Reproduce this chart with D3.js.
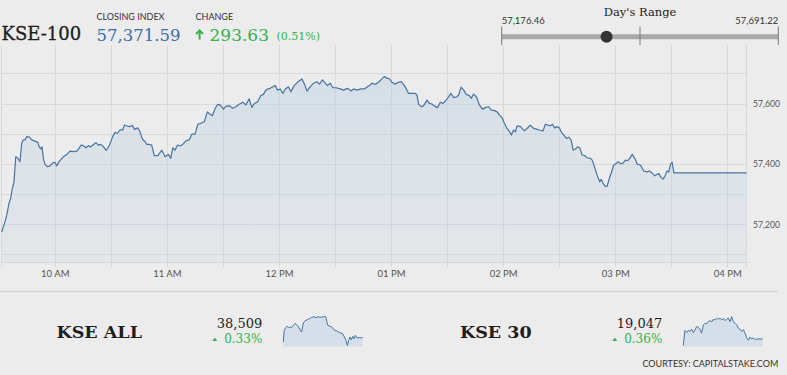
<!DOCTYPE html>
<html>
<head>
<meta charset="utf-8">
<script src="https://cdn.jsdelivr.net/npm/d3@7"></script>
<style>
  body { margin: 0; background: #ececec; }
  svg { display: block; }
  .serif { font-family: 'DejaVu Serif', serif; }
  .sans { font-family: Lato, 'Open Sans', sans-serif; }
  .narrow { font-family: 'Liberation Sans Narrow', Lato, sans-serif; }
</style>
</head>
<body>
<div id="chart"></div>
<script>
// KSE-100 intraday, minutes after 09:30 and index level
const kse100Minutes = [1.3,3.1,4.0,5.2,6.1,7.0,7.9,8.8,9.6,10.6,
  11.1,12.0,12.9,13.8,14.7,16.1,17.4,19.1,20.6,21.4,
  22.2,22.9,23.6,24.5,25.9,27.2,28.6,29.8,30.7,32.0,
  34.3,36.1,37.9,39.6,41.5,42.7,43.8,45.0,46.4,47.7,
  49.0,50.4,51.8,53.0,54.3,55.4,57.2,58.9,60.7,62.0,
  63.2,64.7,66.1,67.0,68.6,70.0,71.1,72.5,74.1,75.2,
  76.6,78.1,79.0,80.2,81.6,83.0,84.9,87.0,88.8,90.5,
  91.8,92.9,94.1,95.4,96.8,98.3,99.9,101.8,103.1,104.8,
  106.3,107.9,109.7,111.4,112.9,114.1,115.6,117.0,118.2,120.0,
  121.4,123.2,125.0,126.6,128.4,130.4,132.0,133.8,135.2,136.6,
  138.4,140.0,141.4,142.7,143.8,145.0,146.5,147.7,149.0,150.4,
  151.8,153.1,154.8,156.1,157.9,159.6,162.0,163.4,164.7,166.4,
  168.2,170.0,171.4,173.0,174.5,175.7,177.2,178.6,180.4,182.5,
  184.3,186.4,188.3,189.6,191.5,193.6,195.4,197.1,198.6,199.5,
  201.3,203.0,204.3,206.1,207.9,208.9,210.2,211.9,213.7,215.0,
  216.4,217.9,219.1,220.5,222.7,223.6,224.5,225.9,227.1,229.0,
  230.2,231.6,233.0,234.6,236.1,237.5,238.8,240.2,241.8,243.2,
  245.0,245.9,247.2,248.6,250.0,251.6,252.7,253.9,255.4,257.0,
  258.7,260.2,261.9,263.4,265.2,266.5,267.7,269.1,270.4,271.8,
  273.0,274.1,275.3,276.3,277.2,279.0,281.1,282.5,284.3,286.1,
  287.9,289.1,291.1,292.3,293.6,295.0,296.2,297.2,298.6,299.8,
  300.8,302.2,303.6,304.8,306.1,307.2,308.4,309.6,310.7,312.0,
  313.4,314.7,316.5,317.4,318.6,320.0,321.4,322.3,323.2,324.5,
  325.4,326.6,327.7,328.9,330.2,331.3,332.5,333.8,335.2,336.4,
  337.5,338.8,340.2,341.5,343.2,345.0,346.8,348.2,349.6,350.9,
  352.2,353.0,354.3,355.4,356.6,357.5,358.4,359.3,360.2,361.1,
  400];
const kse100Values = [57176,57210,57232,57271,57287,57320,57342,57425,57422,57414,
  57409,57470,57481,57481,57492,57490,57481,57477,57473,57458,
  57451,57458,57420,57400,57392,57395,57405,57407,57395,57409,
  57425,57433,57444,57442,57444,57453,57464,57462,57455,57462,
  57458,57466,57472,57464,57466,57461,57446,57462,57492,57506,
  57503,57514,57514,57530,57527,57525,57530,57516,57521,57510,
  57484,57475,57466,57466,57464,57429,57429,57447,57425,57433,
  57420,57455,57447,57464,57461,57467,57478,57482,57500,57500,
  57533,57536,57541,57574,57566,57561,57586,57599,57597,57583,
  57593,57594,57586,57591,57599,57606,57597,57617,57589,57602,
  57608,57628,57632,57646,57650,57652,57657,57661,57646,57650,
  57635,57650,57657,57641,57661,57672,57683,57666,57643,57657,
  57669,57674,57666,57680,57669,57661,57669,57654,57654,57650,
  57646,57652,57643,57650,57646,57650,57650,57657,57663,57669,
  57665,57672,57680,57691,57685,57683,57672,57666,57672,57674,
  57665,57650,57635,57635,57635,57630,57599,57591,57594,57613,
  57602,57600,57593,57588,57606,57602,57610,57621,57635,57621,
  57624,57630,57656,57646,57632,57628,57619,57633,57624,57597,
  57583,57588,57591,57580,57578,57574,57564,57555,57536,57519,
  57510,57497,57514,57508,57528,57525,57511,57519,57530,57519,
  57516,57514,57511,57533,57530,57528,57533,57521,57525,57521,
  57508,57497,57486,57490,57481,57447,57451,57458,57455,57431,
  57429,57422,57420,57414,57392,57365,57342,57350,57337,57326,
  57328,57354,57373,57398,57403,57409,57402,57403,57414,57412,
  57420,57433,57420,57401,57398,57378,57375,57378,57370,57362,
  57367,57370,57356,57351,57365,57378,57375,57400,57407,57372,
  57371.59];

const yDomain = [57074, 57790];

const closingIndex = 57371.59;
const change = 293.63;
const changePct = 0.51;
const dayLow = 57176.46;
const dayHigh = 57691.22;

// small indices shown under the main chart
const indexNames = ['KSE ALL', 'KSE 30'];
const indexCloses = [38509, 19047];
const indexPcts = [0.33, 0.36];

const kseAllMinutes = [1,6,13,21,28,35,43,51,60,68,76,85,93,102,110,118,132,144,155,165,
  177,189,202,214,224,236,247,258,269,279,289,299,308,316,323,330,336,343,350,356,363,370,400];
const kseAllValues = [38457,38599,38631,38647,38627,38639,38631,38656,38680,38664,
  38647,38607,38578,38688,38712,38720,38737,38753,38761,38749,
  38761,38753,38761,38761,38660,38647,38631,38599,38591,38578,
  38566,38558,38518,38477,38416,38477,38518,38485,38526,38497,
  38538,38509,38509];

const kse30Minutes = [1,9,18,26,35,43,51,60,68,76,85,93,102,110,118,127,135,144,152,160,
  169,177,185,194,202,211,219,227,236,244,253,261,269,278,286,294,303,311,320,328,
  336,345,353,361,370,400];
const kse30Values = [19004,19103,19090,19103,19097,19112,19090,19108,19129,19125,
  19108,19086,19140,19151,19147,19162,19168,19160,19177,19172,
  19183,19177,19185,19172,19183,19168,19177,19185,19162,19194,
  19162,19151,19140,19118,19112,19097,19108,19086,19054,19039,
  19060,19047,19054,19043,19047,19047];

const GREEN = '#33b24b';
const BLUE = '#3b6ea6';
const LINE = '#4874a3';
const GRID = '#d9d9d9';

const width = 787, height = 375;
const svg = d3.select('#chart').append('svg')
  .attr('width', width)
  .attr('height', height);

svg.append('rect').attr('width', width).attr('height', height).attr('fill', '#ececec');

const base = new Date(2019, 0, 1, 9, 30);
const toTime = m => new Date(base.getTime() + m * 60000);

const kse100 = kse100Minutes.map((m, i) => ({ t: toTime(m), v: kse100Values[i] }));

const x = d3.scaleTime().domain(d3.extent(kse100, d => d.t)).range([1.7, 746.5]);
const y = d3.scaleLinear().domain(yDomain).range([262.7, 46.7]);
const plotTop = 45, plotBottom = y.range()[0];

// grid
const grid = svg.append('g').attr('shape-rendering', 'crispEdges');
grid.selectAll('line.h')
  .data(y.ticks(8))
  .join('line')
  .attr('class', 'h')
  .attr('x1', x.range()[0]).attr('x2', x.range()[1])
  .attr('y1', d => y(d)).attr('y2', d => y(d))
  .attr('stroke', GRID);

grid.append('line')
  .attr('x1', x.range()[0]).attr('x2', 751)
  .attr('y1', plotBottom).attr('y2', plotBottom)
  .attr('stroke', GRID);

const halfHours = x.ticks(d3.timeMinute.every(30));
grid.selectAll('line.v')
  .data(halfHours.map(d => x(d)).concat(x.range()))
  .join('line')
  .attr('class', 'v')
  .attr('x1', d => d).attr('x2', d => d)
  .attr('y1', plotTop).attr('y2', plotBottom + 4.5)
  .attr('stroke', GRID);

// area + line
const grad = svg.append('defs').append('linearGradient')
  .attr('id', 'areaFill')
  .attr('x1', 0).attr('y1', 0).attr('x2', 0).attr('y2', 1);
grad.append('stop').attr('offset', '0%').attr('stop-color', '#b9cde0').attr('stop-opacity', 0.45);
grad.append('stop').attr('offset', '100%').attr('stop-color', '#c4d2e0').attr('stop-opacity', 0.22);

svg.append('path')
  .datum(kse100)
  .attr('fill', 'url(#areaFill)')
  .attr('d', d3.area().x(d => x(d.t)).y0(plotBottom).y1(d => y(d.v)));

svg.append('path')
  .datum(kse100)
  .attr('fill', 'none')
  .attr('stroke', LINE)
  .attr('stroke-width', 1.2)
  .attr('stroke-linejoin', 'round')
  .attr('d', d3.line().x(d => x(d.t)).y(d => y(d.v)));

// axis labels
svg.append('g')
  .selectAll('text')
  .data(x.ticks(d3.timeHour.every(1)))
  .join('text')
  .attr('class', 'narrow')
  .attr('x', d => x(d))
  .attr('y', 276.5)
  .attr('text-anchor', 'middle')
  .attr('font-size', 9.5)
  .attr('fill', '#555')
  .text(d => d3.timeFormat('%I %p')(d));

svg.append('g')
  .selectAll('text')
  .data(y.ticks(8).filter(d => d % 200 === 0))
  .join('text')
  .attr('class', 'sans')
  .attr('x', 753)
  .attr('y', d => y(d) + 3)
  .attr('font-size', 8.6)
  .attr('fill', '#555')
  .text(d3.format(','));

// header
svg.append('text').attr('class', 'serif')
  .attr('x', 1.5).attr('y', 39.5)
  .attr('font-size', 18).attr('fill', '#1e1e1e')
  .attr('stroke', '#1e1e1e').attr('stroke-width', 0.3)
  .text('KSE-100');

svg.append('text').attr('class', 'sans')
  .attr('x', 96.5).attr('y', 20)
  .attr('font-size', 9).attr('fill', '#333')
  .text('CLOSING INDEX');

svg.append('text').attr('class', 'serif')
  .attr('x', 96.5).attr('y', 40.5)
  .attr('font-size', 16.5).attr('fill', BLUE)
  .text(d3.format(',.2f')(closingIndex));

svg.append('text').attr('class', 'sans')
  .attr('x', 195.5).attr('y', 20)
  .attr('font-size', 9).attr('fill', '#333')
  .text('CHANGE');

const arrow = svg.append('g')
  .attr('stroke', GREEN).attr('stroke-width', 2).attr('fill', 'none');
arrow.append('line').attr('x1', 199.6).attr('x2', 199.6).attr('y1', 39.5).attr('y2', 30.5);
arrow.append('polyline').attr('points', '196.2,34 199.6,30.4 203,34');

svg.append('text').attr('class', 'serif')
  .attr('x', 209.5).attr('y', 40.5)
  .attr('font-size', 17).attr('fill', GREEN)
  .text(change.toFixed(2));

svg.append('text').attr('class', 'serif')
  .attr('x', 276.5).attr('y', 39.5)
  .attr('font-size', 11).attr('fill', GREEN)
  .text(`(${changePct.toFixed(2)}%)`);

// day's range
const rangeX = d3.scaleLinear().domain([dayLow, dayHigh]).range([501.7, 778.3]);

svg.append('text').attr('class', 'serif')
  .attr('x', 640).attr('y', 16)
  .attr('text-anchor', 'middle')
  .attr('font-size', 11.5).attr('fill', '#222')
  .text("Day's Range");

svg.append('text').attr('class', 'sans')
  .attr('x', rangeX(dayLow)).attr('y', 24)
  .attr('font-size', 9.5).attr('fill', '#333')
  .text(d3.format(',.2f')(dayLow));

svg.append('text').attr('class', 'sans')
  .attr('x', rangeX(dayHigh)).attr('y', 24)
  .attr('text-anchor', 'end')
  .attr('font-size', 9.5).attr('fill', '#333')
  .text(d3.format(',.2f')(dayHigh));

svg.append('line')
  .attr('x1', rangeX(dayLow)).attr('x2', rangeX(dayHigh))
  .attr('y1', 36.7).attr('y2', 36.7)
  .attr('stroke', '#a9a9a9').attr('stroke-width', 5);

svg.selectAll('line.rtick')
  .data([dayLow, (dayLow + dayHigh) / 2, dayHigh])
  .join('line')
  .attr('class', 'rtick')
  .attr('x1', d => rangeX(d)).attr('x2', d => rangeX(d))
  .attr('y1', 26.5).attr('y2', 45)
  .attr('stroke', '#777').attr('stroke-width', 1);

svg.append('circle')
  .attr('cx', rangeX(closingIndex)).attr('cy', 36.7)
  .attr('r', 6).attr('fill', '#333');

// footer indices
svg.append('line')
  .attr('x1', 0).attr('x2', 778)
  .attr('y1', 291.5).attr('y2', 291.5)
  .attr('stroke', '#d3d3d3').attr('stroke-width', 1.5);

const blocks = [
  { nameX: 56.5, valueRight: 262.3, sparkX: [283.3, 362.7], minutes: kseAllMinutes, values: kseAllValues },
  { nameX: 460, valueRight: 662.3, sparkX: [683.3, 762.7], minutes: kse30Minutes, values: kse30Values }
];

blocks.forEach((b, i) => {
  const g = svg.append('g');
  g.append('text').attr('class', 'serif')
    .attr('x', b.nameX).attr('y', 337.7)
    .attr('font-size', 17.5).attr('font-weight', 'bold').attr('fill', '#1e1e1e')
    .text(indexNames[i]);

  g.append('text').attr('class', 'serif')
    .attr('x', b.valueRight).attr('y', 327.7)
    .attr('text-anchor', 'end')
    .attr('font-size', 13).attr('fill', '#222')
    .text(d3.format(',')(indexCloses[i]));

  g.append('text').attr('class', 'serif')
    .attr('x', b.valueRight).attr('y', 342.7)
    .attr('text-anchor', 'end')
    .attr('font-size', 12).attr('fill', GREEN)
    .text(indexPcts[i].toFixed(2) + '%');

  const tx = b.valueRight - 47.5;
  g.append('path')
    .attr('d', `M${tx - 2.5},341 L${tx + 2.5},341 L${tx},337.5 Z`)
    .attr('fill', GREEN);

  const pts = b.minutes.map((m, j) => ({ t: toTime(m), v: b.values[j] }));
  const sx = d3.scaleTime().domain(d3.extent(pts, d => d.t)).range(b.sparkX);
  const sy = d3.scaleLinear().domain(d3.extent(pts, d => d.v)).range([345.5, 316.7]);

  g.append('path').datum(pts)
    .attr('fill', '#d5dfe9')
    .attr('d', d3.area().x(d => sx(d.t)).y0(346.7).y1(d => sy(d.v)));
  g.append('path').datum(pts)
    .attr('fill', 'none')
    .attr('stroke', LINE).attr('stroke-width', 1)
    .attr('d', d3.line().x(d => sx(d.t)).y(d => sy(d.v)));
});

svg.append('text').attr('class', 'sans')
  .attr('x', 778.3).attr('y', 367.3)
  .attr('text-anchor', 'end')
  .attr('font-size', 9).attr('fill', '#333')
  .text('COURTESY: CAPITALSTAKE.COM');
</script>
</body>
</html>
